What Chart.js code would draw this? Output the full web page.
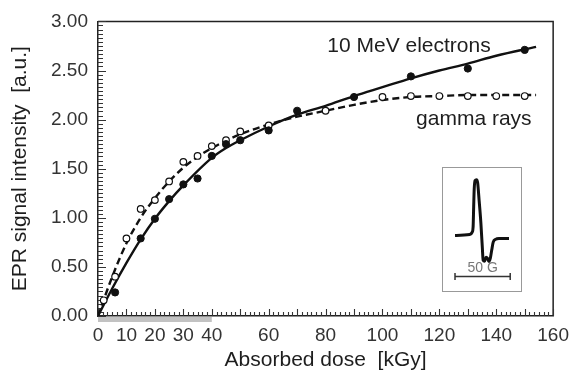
<!DOCTYPE html>
<html><head><meta charset="utf-8">
<script src="https://cdn.jsdelivr.net/npm/chart.js@4.4.0/dist/chart.umd.min.js"></script>
<style>
html,body{margin:0;padding:0;background:#fff;}
#wrap{position:relative;width:577px;height:377px;overflow:hidden;}
#main{position:absolute;left:0;top:0;}
#inset{position:absolute;left:442px;top:167px;}
</style>
</head><body>
<div id="wrap">
<canvas id="main" width="577" height="377"></canvas>
<canvas id="inset" width="80" height="125"></canvas>
</div>
<script>
// ---- data ----
const electronDose   = [6, 15, 20, 25, 30, 35, 40, 45, 50, 60, 70, 90, 110, 130, 150];
const electronSignal = [0.24, 0.79, 0.99, 1.19, 1.34, 1.40, 1.63, 1.75, 1.79, 1.89, 2.09, 2.23, 2.44, 2.52, 2.71];
const gammaDose   = [2, 6, 10, 15, 20, 25, 30, 35, 40, 45, 50, 60, 80, 100, 110, 120, 130, 140, 150];
const gammaSignal = [0.16, 0.40, 0.79, 1.09, 1.18, 1.37, 1.57, 1.63, 1.73, 1.79, 1.88, 1.94, 2.09, 2.23, 2.24, 2.24, 2.24, 2.24, 2.24];
const electronFitDose = [0, 5, 10, 15, 20, 25, 30, 40, 45, 50, 60, 70, 80, 90, 100, 110, 120, 130, 140, 154];
const electronFit     = [0, 0.28, 0.54, 0.78, 0.99, 1.17, 1.33, 1.61, 1.71, 1.79, 1.93, 2.05, 2.14, 2.24, 2.33, 2.42, 2.50, 2.57, 2.65, 2.74];
const gammaFitDose = [0, 5, 10, 15, 20, 25, 30, 35, 40, 50, 60, 70, 80, 90, 100, 110, 120, 130, 154];
const gammaFit     = [0, 0.40, 0.74, 1.00, 1.20, 1.37, 1.51, 1.62, 1.71, 1.85, 1.95, 2.03, 2.09, 2.15, 2.20, 2.23, 2.24, 2.25, 2.25];
const xTickValues = [0, 10, 20, 30, 40, 60, 80, 100, 120, 140, 160];
const yTickValues = [0, 0.5, 1.0, 1.5, 2.0, 2.5, 3.0];
const shadedDoseRange = [0, 40];
const seriesLabels = ['10 MeV electrons', 'gamma rays'];
// inset EPR spectrum (field in G, derivative signal in a.u.)
const insetField  = [6.8, 20.1, 22.4, 23.2, 23.7, 24.2, 25.0, 26.3, 27.3, 28.7, 30.2, 31.5, 32.3, 33.6, 34.9, 36.2, 37.5, 38.8, 40.1, 41.4, 43.5, 46.6, 55.7];
const insetSignal = [-0.104, -0.088, -0.045, 0.045, 0.392, 0.712, 0.860, 0.875, 0.819, 0.499, 0.125, -0.301, -0.540, -0.556, -0.488, -0.504, -0.562, -0.504, -0.355, -0.221, -0.173, -0.157, -0.157];
const scaleBarField = [6.8, 56.8];
const scaleBarLevel = [-0.824, -0.824];
const scaleBarLabel = '50 G';

const FONT = "'Liberation Sans', Arial, Helvetica, sans-serif";
Chart.defaults.font.family = FONT;
const toXY = (xs, ys) => xs.map((v, i) => ({x: v, y: ys[i]}));

const framePlugin = {
  id: 'frameTicks',
  beforeDatasetsDraw(chart) {
    const {ctx, chartArea: a, scales: {x, y}} = chart;
    ctx.save();
    const xa = x.getPixelForValue(shadedDoseRange[0]), xb = x.getPixelForValue(shadedDoseRange[1]);
    ctx.fillStyle = '#c2c2c2';
    ctx.fillRect(xa, a.bottom + 1, xb - xa, 5);
    ctx.strokeStyle = '#222';
    ctx.lineWidth = 1.5;
    ctx.beginPath();
    ctx.moveTo(a.left, a.top); ctx.lineTo(a.right, a.top); ctx.lineTo(a.right, a.bottom);
    ctx.stroke();
    ctx.lineWidth = 1.1;
    ctx.strokeStyle = '#333';
    ctx.beginPath();
    for (let i = 0; i <= 96; i++) {
      const px = Math.round(x.getPixelForValue(i * 10 / 6)) + 0.5;
      const len = (i % 6 === 0) ? 7 : 4;
      ctx.moveTo(px, a.bottom); ctx.lineTo(px, a.bottom - len);
    }
    for (let i = 0; i <= 72; i++) {
      const py = Math.round(y.getPixelForValue(i * 0.5 / 12)) + 0.5;
      const len = (i % 12 === 0) ? 8 : 5;
      ctx.moveTo(a.left, py); ctx.lineTo(a.left + len, py);
    }
    ctx.stroke();
    ctx.restore();
  },
  afterDatasetsDraw(chart) {
    const {ctx, scales: {x, y}} = chart;
    ctx.save();
    ctx.font = '21px ' + FONT;
    ctx.fillStyle = '#1e1e1e';
    ctx.textAlign = 'left';
    ctx.textBaseline = 'alphabetic';
    ctx.fillText(seriesLabels[0], x.getPixelForValue(80.6), y.getPixelForValue(2.69));
    ctx.fillText(seriesLabels[1], x.getPixelForValue(111.8), y.getPixelForValue(1.94));
    ctx.restore();
  }
};

new Chart(document.getElementById('main'), {
  type: 'line',
  data: {
    datasets: [
      {label: seriesLabels[0] + ' (data)', data: toXY(electronDose, electronSignal), showLine: false,
       pointRadius: 3.6, pointBackgroundColor: '#111', pointBorderColor: '#111', pointBorderWidth: 1, order: 1},
      {label: seriesLabels[1] + ' (data)', data: toXY(gammaDose, gammaSignal), showLine: false,
       pointRadius: 3.3, pointBackgroundColor: '#fff', pointBorderColor: '#111', pointBorderWidth: 1.2, order: 2},
      {label: seriesLabels[0], data: toXY(electronFitDose, electronFit), borderColor: '#111', borderWidth: 2.4,
       pointRadius: 0, cubicInterpolationMode: 'monotone', fill: false, order: 3},
      {label: seriesLabels[1], data: toXY(gammaFitDose, gammaFit), borderColor: '#111', borderWidth: 2.4,
       borderDash: [7, 4], pointRadius: 0, cubicInterpolationMode: 'monotone', fill: false, order: 4}
    ]
  },
  options: {
    responsive: false,
    animation: false,
    devicePixelRatio: 1,
    events: [],
    layout: {padding: {top: 16, right: 17, left: 0, bottom: 0}},
    plugins: {legend: {display: false}, tooltip: {enabled: false}},
    scales: {
      x: {
        type: 'linear', min: 0, max: 160,
        afterBuildTicks: s => { s.ticks = xTickValues.map(v => ({value: v})); },
        afterFit: s => { s.height = 61; },
        ticks: {autoSkip: false, maxRotation: 0, color: '#333', font: {size: 19}, padding: 8, callback: v => String(v)},
        grid: {display: false, drawTicks: false},
        border: {display: true, color: '#222', width: 1.5},
        title: {display: true, text: 'Absorbed dose  [kGy]', color: '#1e1e1e', font: {size: 21}, padding: {top: 0, bottom: 4}}
      },
      y: {
        type: 'linear', min: 0, max: 3,
        afterBuildTicks: s => { s.ticks = yTickValues.map(v => ({value: v})); },
        afterFit: s => { s.width = 98; },
        ticks: {autoSkip: false, color: '#333', font: {size: 19}, padding: 10, callback: v => Number(v).toFixed(2)},
        grid: {display: false, drawTicks: false},
        border: {display: true, color: '#222', width: 1.5},
        title: {display: true, text: 'EPR signal intensity  [a.u.]', color: '#1e1e1e', font: {size: 21}, padding: {top: 8, bottom: 0}}
      }
    }
  },
  plugins: [framePlugin]
});

const insetPlugin = {
  id: 'insetDeco',
  afterDatasetsDraw(chart) {
    const {ctx, scales: {x, y}} = chart;
    ctx.save();
    ctx.strokeStyle = '#999';
    ctx.lineWidth = 1;
    ctx.strokeRect(0.5, 0.5, chart.width - 1, chart.height - 1);
    ctx.font = '14px ' + FONT;
    ctx.fillStyle = '#777';
    ctx.textAlign = 'center';
    ctx.textBaseline = 'middle';
    const mid = (scaleBarField[0] + scaleBarField[1]) / 2;
    ctx.fillText(scaleBarLabel, x.getPixelForValue(mid), y.getPixelForValue(-0.68));
    ctx.restore();
  }
};

new Chart(document.getElementById('inset'), {
  type: 'line',
  data: {
    datasets: [
      {label: 'EPR spectrum', data: toXY(insetField, insetSignal), borderColor: '#111', borderWidth: 3,
       pointRadius: 0, cubicInterpolationMode: 'monotone', fill: false},
      {label: scaleBarLabel, data: toXY(scaleBarField, scaleBarLevel), borderColor: '#333', borderWidth: 1.5,
       pointStyle: 'line', rotation: 90, pointRadius: 3.5, pointBorderWidth: 1.5, pointBorderColor: '#333', fill: false}
    ]
  },
  options: {
    responsive: false,
    animation: false,
    devicePixelRatio: 1,
    events: [],
    layout: {padding: 0},
    plugins: {legend: {display: false}, tooltip: {enabled: false}},
    scales: {
      x: {type: 'linear', display: false, min: 0, max: 62.5},
      y: {type: 'linear', display: false, min: -1, max: 1}
    }
  },
  plugins: [insetPlugin]
});
</script>
</body></html>
